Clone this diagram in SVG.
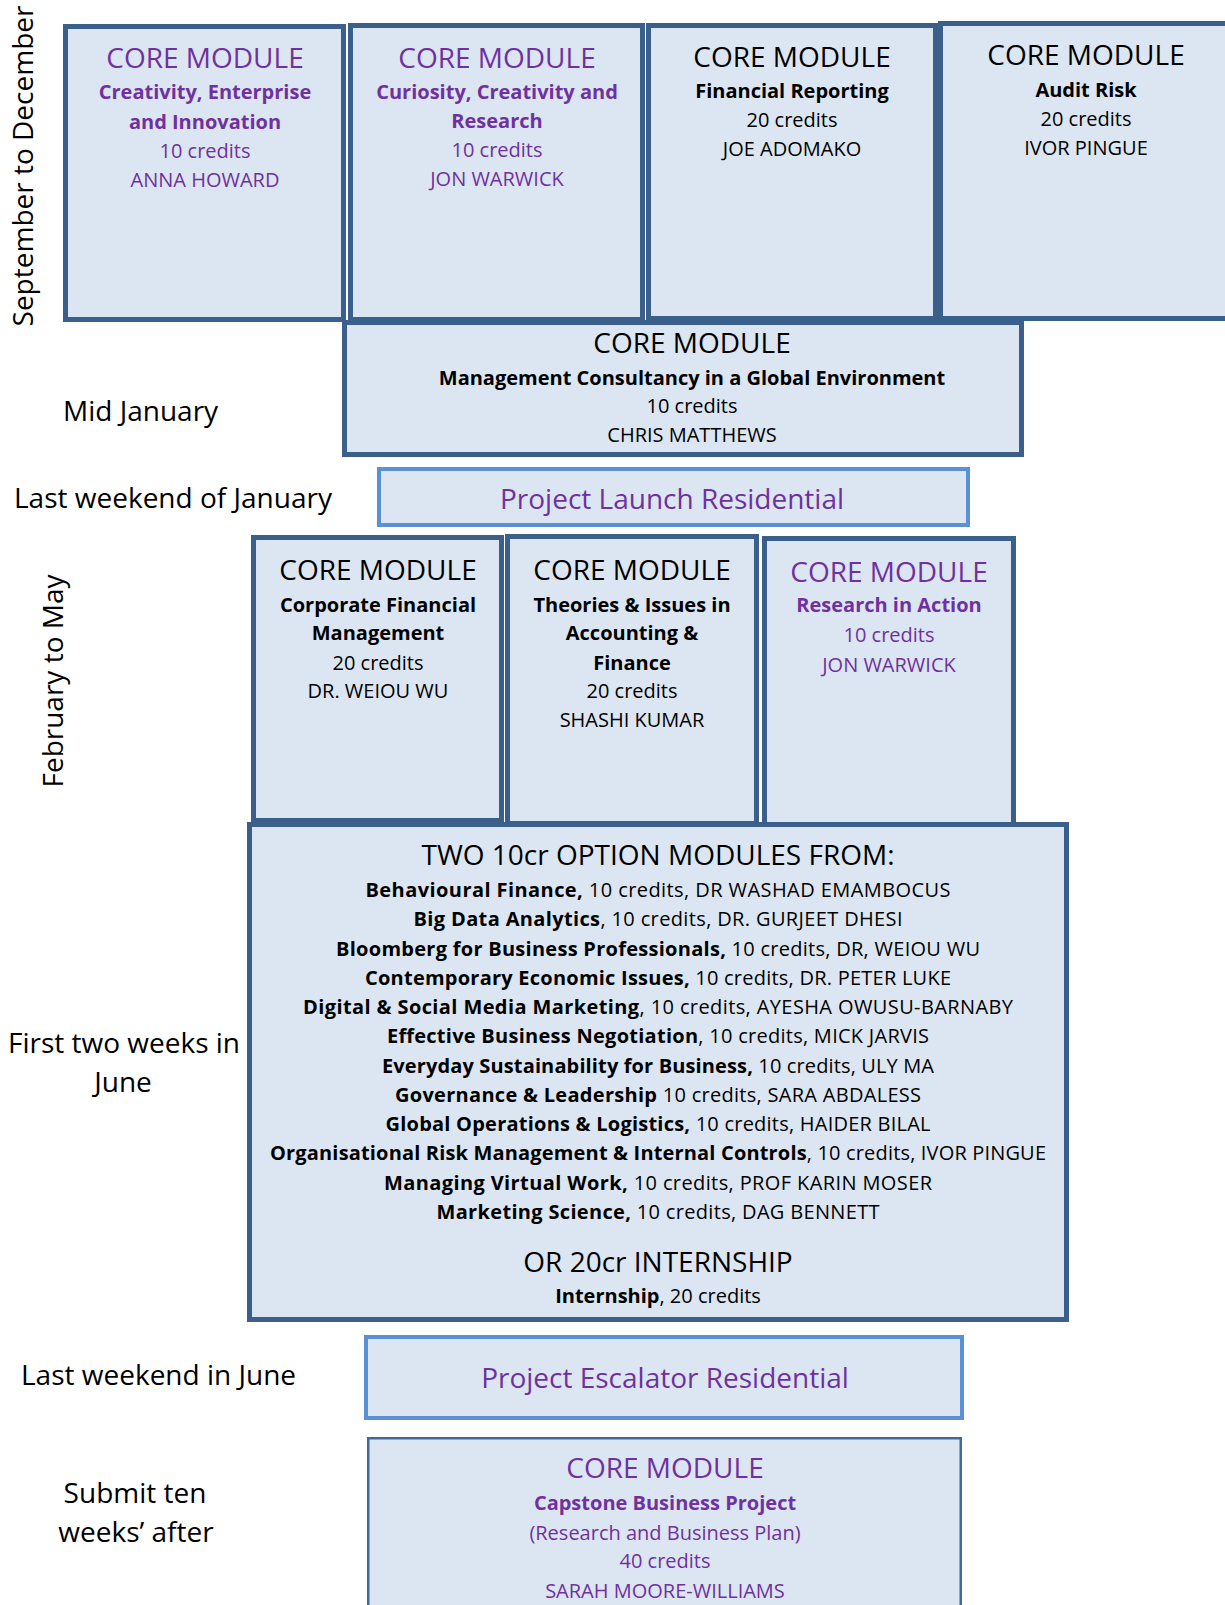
<svg xmlns="http://www.w3.org/2000/svg" width="1225" height="1605" viewBox="0 0 1225 1605">
<style>
.box{fill:#DCE6F2;stroke:#3A5F8B;stroke-width:5}
.res{fill:#DCE6F2;stroke:#5B8FD6;stroke-width:4}
.cap{fill:#DCE6F2;stroke:#41699A;stroke-width:2.5}
text{font-family:"Open Sans","Noto Sans",sans-serif;text-anchor:middle;fill:#000}
.h{font-size:28px}
.t{font-size:20px}
.b{font-weight:bold}
.p{fill:#7030A0}
.l{font-size:28px}
.s{text-anchor:start}
</style>
<rect width="1225" height="1605" fill="#fff"/>

<g id="labels">
<text class="l" transform="translate(33,166) rotate(-90)">September to December</text>
<text class="l s" x="63" y="421">Mid January</text>
<text class="l s" x="14" y="508">Last weekend of January</text>
<text class="l" transform="translate(63,681) rotate(-90)">February to May</text>
<text class="l" x="124" y="1053">First two weeks in</text>
<text class="l" x="123" y="1092">June</text>
<text class="l s" x="21" y="1385">Last weekend in June</text>
<text class="l" x="135" y="1503">Submit ten</text>
<text class="l" x="136" y="1542">weeks’ after</text>
</g>

<g id="connectors"></g>

<g id="node-creativity">
<rect class="box" x="65.5" y="26.5" width="278" height="293"/>
<text class="h p" x="205" y="68">CORE MODULE</text>
<text class="t b p" x="205" y="99">Creativity, Enterprise</text>
<text class="t b p" x="205" y="129">and Innovation</text>
<text class="t p" x="205" y="158">10 credits</text>
<text class="t p" x="205" y="187">ANNA HOWARD</text>
</g>

<g id="node-curiosity">
<rect class="box" x="350.5" y="25.5" width="292" height="294"/>
<text class="h p" x="497" y="68">CORE MODULE</text>
<text class="t b p" x="497" y="99">Curiosity, Creativity and</text>
<text class="t b p" x="497" y="128">Research</text>
<text class="t p" x="497" y="157">10 credits</text>
<text class="t p" x="497" y="186">JON WARWICK</text>
</g>

<g id="node-financial-reporting">
<rect class="box" x="648.5" y="25.5" width="287" height="293"/>
<text class="h" x="792" y="67">CORE MODULE</text>
<text class="t b" x="792" y="98">Financial Reporting</text>
<text class="t" x="792" y="127">20 credits</text>
<text class="t" x="792" y="156">JOE ADOMAKO</text>
</g>

<g id="node-audit-risk">
<rect class="box" x="940.5" y="23.5" width="295" height="295"/>
<text class="h" x="1086" y="65">CORE MODULE</text>
<text class="t b" x="1086" y="97">Audit Risk</text>
<text class="t" x="1086" y="126">20 credits</text>
<text class="t" x="1086" y="155">IVOR PINGUE</text>
</g>

<g id="node-management-consultancy">
<rect class="box" x="344.5" y="322.5" width="677" height="132"/>
<text class="h" x="692" y="353">CORE MODULE</text>
<text class="t b" x="692" y="385">Management Consultancy in a Global Environment</text>
<text class="t" x="692" y="413">10 credits</text>
<text class="t" x="692" y="442">CHRIS MATTHEWS</text>
</g>

<g id="node-project-launch">
<rect class="res" x="379" y="469" width="589" height="56"/>
<text class="h p" x="672" y="509">Project Launch Residential</text>
</g>

<g id="node-options">
<rect class="box" x="249.5" y="824.5" width="817" height="495"/>
<text class="h" x="658" y="865">TWO 10cr OPTION MODULES FROM:</text>
<text class="t" x="658" y="897" textLength="585"><tspan class="b">Behavioural Finance,</tspan> 10 credits, DR WASHAD EMAMBOCUS</text>
<text class="t" x="658" y="926" textLength="489"><tspan class="b">Big Data Analytics</tspan>, 10 credits, DR. GURJEET DHESI</text>
<text class="t" x="658" y="956" textLength="644"><tspan class="b">Bloomberg for Business Professionals,</tspan> 10 credits, DR, WEIOU WU</text>
<text class="t" x="658" y="985" textLength="586"><tspan class="b">Contemporary Economic Issues,</tspan> 10 credits, DR. PETER LUKE</text>
<text class="t" x="658" y="1014" textLength="710"><tspan class="b">Digital &amp; Social Media Marketing</tspan>, 10 credits, AYESHA OWUSU-BARNABY</text>
<text class="t" x="658" y="1043" textLength="542"><tspan class="b">Effective Business Negotiation</tspan>, 10 credits, MICK JARVIS</text>
<text class="t" x="658" y="1073" textLength="552"><tspan class="b">Everyday Sustainability for Business,</tspan> 10 credits, ULY MA</text>
<text class="t" x="658" y="1102" textLength="526"><tspan class="b">Governance &amp; Leadership</tspan> 10 credits, SARA ABDALESS</text>
<text class="t" x="658" y="1131" textLength="545"><tspan class="b">Global Operations &amp; Logistics,</tspan> 10 credits, HAIDER BILAL</text>
<text class="t" x="658" y="1160" textLength="776"><tspan class="b">Organisational Risk Management &amp; Internal Controls</tspan>, 10 credits, IVOR PINGUE</text>
<text class="t" x="658" y="1190" textLength="548"><tspan class="b">Managing Virtual Work,</tspan> 10 credits, PROF KARIN MOSER</text>
<text class="t" x="658" y="1219" textLength="443"><tspan class="b">Marketing Science,</tspan> 10 credits, DAG BENNETT</text>
<text class="h" x="658" y="1272">OR 20cr INTERNSHIP</text>
<text class="t" x="658" y="1303"><tspan class="b">Internship</tspan>, 20 credits</text>
</g>

<g id="node-corporate-financial">
<rect class="box" x="253.5" y="537.5" width="248" height="283"/>
<text class="h" x="378" y="580">CORE MODULE</text>
<text class="t b" x="378" y="612">Corporate Financial</text>
<text class="t b" x="378" y="640">Management</text>
<text class="t" x="378" y="670">20 credits</text>
<text class="t" x="378" y="698">DR. WEIOU WU</text>
</g>

<g id="node-theories">
<rect class="box" x="507.5" y="536.5" width="249" height="287"/>
<text class="h" x="632" y="580">CORE MODULE</text>
<text class="t b" x="632" y="612">Theories &amp; Issues in</text>
<text class="t b" x="632" y="640">Accounting &amp;</text>
<text class="t b" x="632" y="670">Finance</text>
<text class="t" x="632" y="698">20 credits</text>
<text class="t" x="632" y="727">SHASHI KUMAR</text>
</g>

<g id="node-research-in-action">
<rect class="box" x="764.5" y="538.5" width="249" height="286"/>
<text class="h p" x="889" y="582">CORE MODULE</text>
<text class="t b p" x="889" y="612">Research in Action</text>
<text class="t p" x="889" y="642">10 credits</text>
<text class="t p" x="889" y="672">JON WARWICK</text>
</g>

<g id="node-project-escalator">
<rect class="res" x="366" y="1337" width="596" height="81"/>
<text class="h p" x="665" y="1388">Project Escalator Residential</text>
</g>

<g id="node-capstone">
<rect class="cap" x="368.25" y="1438.25" width="592.5" height="200"/>
<text class="h p" x="665" y="1478">CORE MODULE</text>
<text class="t b p" x="665" y="1510">Capstone Business Project</text>
<text class="t p" x="665" y="1540">(Research and Business Plan)</text>
<text class="t p" x="665" y="1568">40 credits</text>
<text class="t p" x="665" y="1598">SARAH MOORE-WILLIAMS</text>
</g>
</svg>
